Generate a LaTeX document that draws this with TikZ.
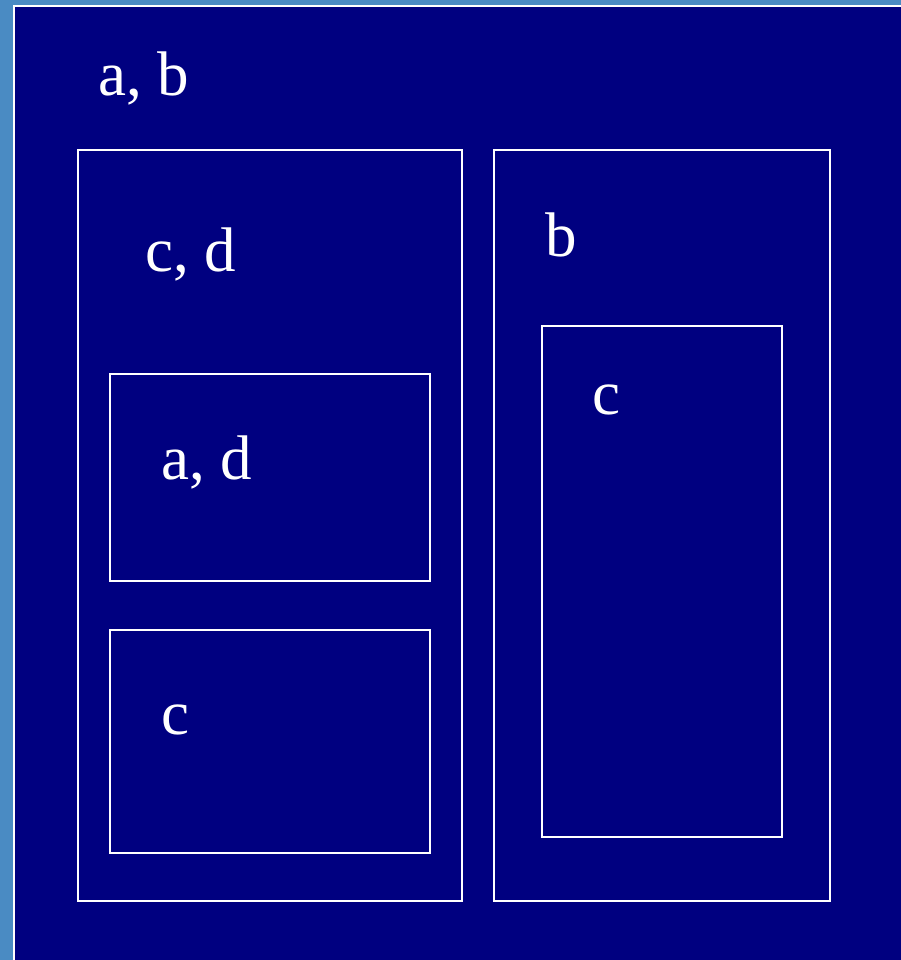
\documentclass[tikz,border=0pt]{standalone}
\usepackage{fontspec}
\setmainfont{Liberation Serif}
\definecolor{frame}{HTML}{4A8BC3}
\definecolor{navy}{HTML}{000080}
\begin{document}
\begin{tikzpicture}[x=1pt,y=-1pt,
  box/.style={draw=white,line width=2pt},
  lbl/.style={text=white,anchor=base west,inner sep=0pt,font=\fontsize{63}{63}\selectfont}]
\useasboundingbox (0,0) rectangle (901,960);
\fill[frame] (0,0) rectangle (901,960);
\fill[white] (13,5) rectangle (901,960);
\fill[navy] (15,7) rectangle (901,960);
\draw[box] (78,150) rectangle (462,901);
\draw[box] (110,374) rectangle (430,581);
\draw[box] (110,630) rectangle (430,853);
\draw[box] (494,150) rectangle (830,901);
\draw[box] (542,326) rectangle (782,837);
\node[lbl] (ab) at (98,96) {a, b};
\node[lbl] (cd) at (145,271) {c, d};
\node[lbl] (ad) at (161,479) {a, d};
\node[lbl] (c1) at (161,734) {c};
\node[lbl] (b) at (545,256) {b};
\node[lbl] (c2) at (592,414) {c};
\end{tikzpicture}
\end{document}
